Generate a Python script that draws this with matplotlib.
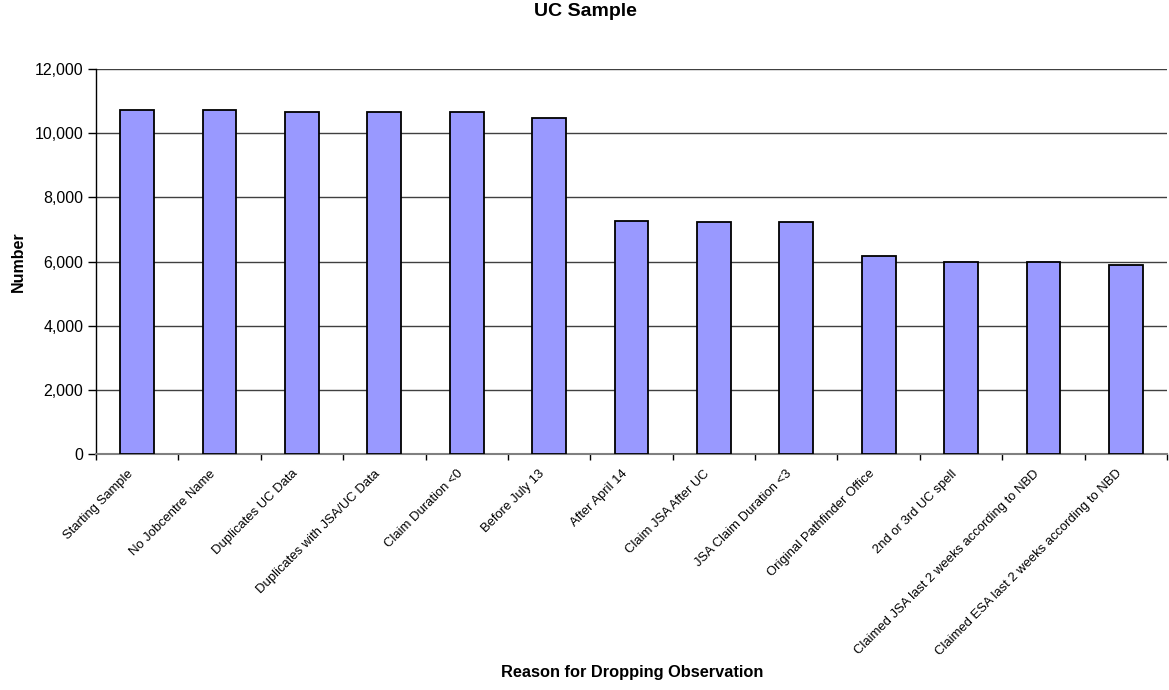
import matplotlib
matplotlib.use("Agg")
import matplotlib.pyplot as plt
from matplotlib.ticker import FuncFormatter, FixedLocator
from matplotlib.transforms import ScaledTranslation

# Observations remaining after each exclusion step
reasons = [
    "Starting Sample",
    "No Jobcentre Name",
    "Duplicates UC Data",
    "Duplicates with JSA/UC Data",
    "Claim Duration <0",
    "Before July 13",
    "After April 14",
    "Claim JSA After UC",
    "JSA Claim Duration <3",
    "Original Pathfinder Office",
    "2nd or 3rd UC spell",
    "Claimed JSA last 2 weeks according to NBD",
    "Claimed ESA last 2 weeks according to NBD",
]
counts = [10712, 10708, 10675, 10666, 10664, 10468, 7270, 7228, 7220,
          6187, 5989, 5979, 5906]
y_ticks = [0, 2000, 4000, 6000, 8000, 10000, 12000]

plt.rcParams["font.family"] = ["Liberation Sans", "DejaVu Sans"]

DPI = 100
fig = plt.figure(figsize=(11.69, 6.90), dpi=DPI)
ax = fig.add_axes([96 / 1169, 1 - 454 / 690, (1167 - 96) / 1169, (454 - 69) / 690])

n = len(reasons)
centers = [i + 0.5 for i in range(n)]
ax.bar(centers, counts, width=0.41, color="#9999FF", edgecolor="black",
       linewidth=1.3, zorder=3)

ax.set_xlim(0, n)
ax.set_ylim(0, 12000)

# horizontal gridlines
ax.yaxis.set_major_locator(FixedLocator(y_ticks))
ax.grid(axis="y", color="#404040", linewidth=1.0, zorder=0)
ax.set_axisbelow(True)

ax.yaxis.set_major_formatter(FuncFormatter(lambda v, p: f"{int(v):,}"))
ax.tick_params(axis="y", direction="out", length=6, width=1, color="black",
               labelsize=11.5, pad=3)

# category boundary ticks on the x axis
ax.set_xticks(range(n + 1))
ax.set_xticklabels([])
ax.tick_params(axis="x", direction="out", length=4, width=1, color="black")

for side in ("top", "right"):
    ax.spines[side].set_visible(False)
ax.spines["left"].set_color("black")
ax.spines["left"].set_linewidth(1.0)
ax.spines["bottom"].set_color("#808080")
ax.spines["bottom"].set_linewidth(1.5)

# rotated category labels
offset = ScaledTranslation(-6 / DPI, -18 / DPI, fig.dpi_scale_trans)
for c, lab in zip(centers, reasons):
    ax.text(c, 0, lab, transform=ax.get_xaxis_transform() + offset,
            rotation=45, rotation_mode="anchor", ha="right", va="center",
            fontsize=9.4, color="black")

fig.text(585 / 1169, 1 - 12 / 690, "UC Sample", ha="center", va="center",
         fontsize=14, fontweight="bold")
fig.text(632 / 1169, 1 - 672 / 690, "Reason for Dropping Observation",
         ha="center", va="center", fontsize=11.8, fontweight="bold")
fig.text(18 / 1169, 1 - 262 / 690, "Number", ha="center", va="center",
         rotation=90, fontsize=11.5, fontweight="bold")

fig.savefig("out.png", dpi=DPI)
